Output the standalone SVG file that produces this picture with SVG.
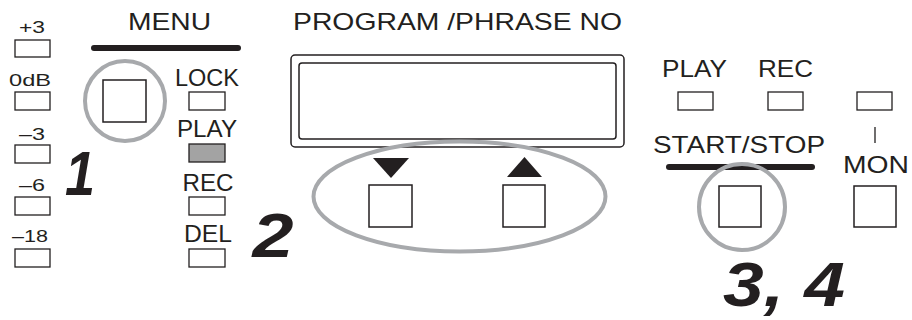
<svg xmlns="http://www.w3.org/2000/svg" width="912" height="320" viewBox="0 0 912 320">
<style>
text{font-family:"Liberation Sans",Arial,Helvetica,sans-serif;fill:#231f20}
.lbl{font-size:24px}
.sm{font-size:17px}
.big{font-size:63px;font-weight:bold;font-style:italic}
.led{fill:#fff;stroke:#231f20;stroke-width:1.3}
.ledon{fill:#a3a3a3;stroke:#231f20;stroke-width:1.3}
.btn{fill:#fff;stroke:#231f20;stroke-width:1.5}
.ring{fill:none;stroke:#a7a9ac;stroke-width:4}
.bar{stroke:#231f20;stroke-width:6;stroke-linecap:round}
.tri{fill:#231f20}
</style>
<rect width="912" height="320" fill="#fff"/>

<g id="meter">
  <text class="sm" x="32" y="33" text-anchor="middle" textLength="26" lengthAdjust="spacingAndGlyphs">+3</text>
  <rect class="led" x="15" y="40" width="35" height="17"/>
  <text class="sm" x="30" y="86" text-anchor="middle" textLength="42" lengthAdjust="spacingAndGlyphs">0dB</text>
  <rect class="led" x="15" y="92" width="35" height="18"/>
  <text class="sm" x="32" y="140" text-anchor="middle" textLength="26" lengthAdjust="spacingAndGlyphs">–3</text>
  <rect class="led" x="15" y="145" width="35" height="18"/>
  <text class="sm" x="32" y="191" text-anchor="middle" textLength="26" lengthAdjust="spacingAndGlyphs">–6</text>
  <rect class="led" x="15" y="197" width="35" height="18"/>
  <text class="sm" x="30" y="242" text-anchor="middle" textLength="36" lengthAdjust="spacingAndGlyphs">–18</text>
  <rect class="led" x="15" y="249" width="35" height="18"/>
</g>

<g id="menu">
  <text class="lbl" x="169.5" y="30" text-anchor="middle" textLength="83" lengthAdjust="spacingAndGlyphs">MENU</text>
  <line class="bar" x1="94" y1="48" x2="238" y2="48"/>
  <circle class="ring" cx="125" cy="101" r="40"/>
  <rect class="btn" x="103" y="80" width="43" height="42"/>
</g>

<g id="mode-leds">
  <text class="lbl" x="207" y="86" text-anchor="middle" textLength="64" lengthAdjust="spacingAndGlyphs">LOCK</text>
  <rect class="led" x="189" y="92" width="36" height="18"/>
  <text class="lbl" x="207" y="137" text-anchor="middle" textLength="60" lengthAdjust="spacingAndGlyphs">PLAY</text>
  <rect class="ledon" x="189" y="144" width="36" height="18"/>
  <text class="lbl" x="208" y="191" text-anchor="middle" textLength="51" lengthAdjust="spacingAndGlyphs">REC</text>
  <rect class="led" x="189" y="197" width="36" height="18"/>
  <text class="lbl" x="208" y="242" text-anchor="middle" textLength="48" lengthAdjust="spacingAndGlyphs">DEL</text>
  <rect class="led" x="189" y="249" width="36" height="18"/>
</g>

<g id="display">
  <text class="lbl" x="457.5" y="30" text-anchor="middle" textLength="329" lengthAdjust="spacingAndGlyphs">PROGRAM /PHRASE NO</text>
  <rect x="291" y="55" width="333" height="92" rx="4" fill="#fff" stroke="#231f20" stroke-width="1.5"/>
  <rect x="299" y="63" width="317" height="76" rx="3" fill="#fff" stroke="#231f20" stroke-width="1.5"/>
</g>

<g id="select-buttons">
  <ellipse class="ring" cx="459.5" cy="196.5" rx="146" ry="55"/>
  <polygon class="tri" points="373,158 409,158 391,178"/>
  <rect class="btn" x="369" y="185" width="43" height="42"/>
  <polygon class="tri" points="507,177 542,177 524.5,157"/>
  <rect class="btn" x="503" y="185" width="42" height="42"/>
</g>

<g id="start-stop">
  <text class="lbl" x="694.5" y="77" text-anchor="middle" textLength="65" lengthAdjust="spacingAndGlyphs">PLAY</text>
  <rect class="led" x="678" y="92" width="35" height="18"/>
  <text class="lbl" x="785.5" y="77" text-anchor="middle" textLength="55" lengthAdjust="spacingAndGlyphs">REC</text>
  <rect class="led" x="768" y="92" width="35" height="18"/>
  <text class="lbl" x="739" y="153" text-anchor="middle" textLength="172" lengthAdjust="spacingAndGlyphs">START/STOP</text>
  <line class="bar" x1="669" y1="167" x2="812" y2="167"/>
  <circle class="ring" cx="742" cy="207" r="43"/>
  <rect class="btn" x="719" y="186" width="42" height="41"/>
</g>

<g id="mon">
  <rect class="led" x="857" y="92" width="35" height="18"/>
  <text class="lbl" x="876" y="173" text-anchor="middle" textLength="66" lengthAdjust="spacingAndGlyphs">MON</text>
  <rect class="btn" x="854" y="186" width="42" height="41"/>
</g>

<g id="connectors">
  <line x1="875" y1="127" x2="875" y2="143" stroke="#231f20" stroke-width="1.3"/>
</g>

<g id="steps">
  <text class="big" x="80" y="195" text-anchor="middle" textLength="30" lengthAdjust="spacingAndGlyphs">1</text>
  <text class="big" x="273" y="257" text-anchor="middle" textLength="41" lengthAdjust="spacingAndGlyphs">2</text>
  <text class="big" x="784" y="306" text-anchor="middle" textLength="122" lengthAdjust="spacingAndGlyphs">3, 4</text>
</g>
</svg>
